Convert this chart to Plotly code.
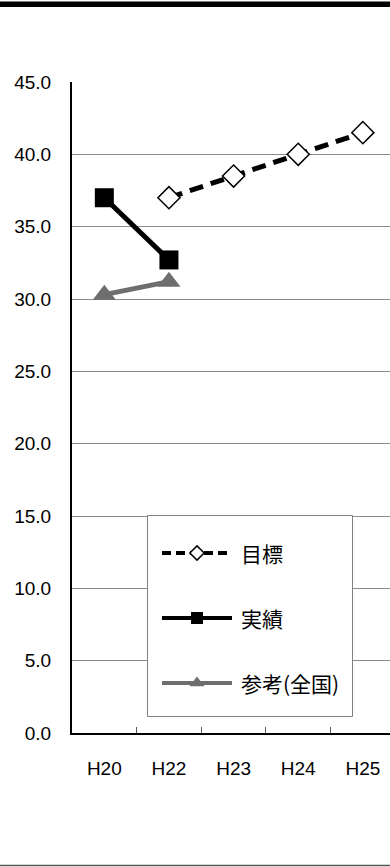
import plotly.graph_objects as go

# Fiscal years on the category axis
years = ["H20", "H22", "H23", "H24", "H25"]

# Target values (目標), from H22 onward
target_years = ["H22", "H23", "H24", "H25"]
target_vals = [37.0, 38.5, 40.0, 41.5]

# Actual results (実績)
actual_years = ["H20", "H22"]
actual_vals = [37.0, 32.7]

# National reference (参考(全国))
national_years = ["H20", "H22"]
national_vals = [30.3, 31.2]

y_ticks = [0, 5, 10, 15, 20, 25, 30, 35, 40, 45]
y_tick_text = [f"{v:.1f}" for v in y_ticks]

W, H = 390, 867
L, R, T, B = 72, 0, 82, 134
X_RANGE = [-0.5, 4.42]
Y_RANGE = [0, 45]
GRAY = "#6e6e6e"
NUM_FONT = "Liberation Sans, Arial, sans-serif"
JP_FONT = "Noto Sans CJK JP, sans-serif"


def py(px):
    """Pixel row -> paper y."""
    return (H - B - px) / (H - T - B)


def dx(px):
    """Pixel column -> category-axis coordinate."""
    return X_RANGE[0] + (px - L) / (W - L - R) * (X_RANGE[1] - X_RANGE[0])


def dy(px):
    """Pixel row -> value-axis coordinate."""
    return Y_RANGE[0] + py(px) * (Y_RANGE[1] - Y_RANGE[0])


fig = go.Figure()

fig.add_trace(go.Scatter(
    x=target_years, y=target_vals, mode="lines+markers", name="目標",
    line=dict(color="black", width=5, dash="14px,8px"),
    marker=dict(symbol="diamond", size=17, color="white",
                line=dict(color="black", width=1.5)),
    showlegend=False, cliponaxis=False,
))
fig.add_trace(go.Scatter(
    x=actual_years, y=actual_vals, mode="lines+markers", name="実績",
    line=dict(color="black", width=5),
    marker=dict(symbol="square", size=19, color="black"),
    showlegend=False,
))
fig.add_trace(go.Scatter(
    x=national_years, y=national_vals, mode="lines+markers", name="参考(全国)",
    line=dict(color=GRAY, width=5),
    marker=dict(symbol="triangle-up", size=20, color=GRAY),
    showlegend=False,
))

# Legend samples drawn on an overlay axis measured in pixels
legend_rows = [
    ("目標", 553, dict(color="black", width=4, dash="9px,5px"),
     dict(symbol="diamond", size=11, color="white", line=dict(color="black", width=1.5))),
    ("実績", 618, dict(color="black", width=4),
     dict(symbol="square", size=12, color="black")),
    ("参考(全国)", 683, dict(color=GRAY, width=4),
     dict(symbol="triangle-up", size=13, color=GRAY)),
]
for label, row_y, ln, mk in legend_rows:
    fig.add_trace(go.Scatter(
        x=[162, 232], y=[row_y, row_y], mode="lines", line=ln,
        xaxis="x2", yaxis="y2", showlegend=False, hoverinfo="skip",
    ))
    fig.add_trace(go.Scatter(
        x=[197], y=[row_y], mode="markers", marker=mk,
        xaxis="x2", yaxis="y2", showlegend=False, hoverinfo="skip",
    ))
    fig.add_annotation(
        x=239, y=row_y, xref="x2", yref="y2", text=label, showarrow=False,
        xanchor="left", yanchor="middle",
        font=dict(family=JP_FONT, size=21, color="black"),
    )

shapes = [
    # legend frame, above the gridlines but under the traces
    dict(type="rect", xref="x", yref="y", x0=dx(147.5), x1=dx(352.5),
         y0=dy(716.5), y1=dy(515.5),
         line=dict(color="#808080", width=1), fillcolor="white", layer="between"),
    # page rules
    dict(type="rect", xref="paper", yref="paper", x0=-L / (W - L - R), x1=1,
         y0=py(7), y1=py(1.5), line=dict(width=0), fillcolor="black"),
    dict(type="line", xref="paper", yref="paper", x0=-L / (W - L - R), x1=1,
         y0=py(865.5), y1=py(865.5), line=dict(color="#555555", width=1.5)),
]

fig.update_layout(
    width=W, height=H,
    margin=dict(l=L, r=R, t=T, b=B, pad=0),
    paper_bgcolor="white", plot_bgcolor="white",
    showlegend=False,
    shapes=shapes,
    xaxis=dict(
        type="category", categoryorder="array", categoryarray=years,
        range=X_RANGE, showgrid=False,
        showline=True, linecolor="black", linewidth=2,
        ticks="inside", tickson="boundaries", ticklen=6, tickcolor="#555555",
        tickfont=dict(family=NUM_FONT, size=19, color="black"),
        ticklabelstandoff=17, fixedrange=True,
    ),
    yaxis=dict(
        range=Y_RANGE, tickvals=y_ticks, ticktext=y_tick_text,
        showgrid=True, gridcolor="#8c8c8c", gridwidth=1,
        showline=True, linecolor="black", linewidth=2, zeroline=False,
        ticks="", tickfont=dict(family=NUM_FONT, size=19, color="black"),
        ticklabelstandoff=15, fixedrange=True,
    ),
    xaxis2=dict(range=[L, W - R], overlaying="x", visible=False, fixedrange=True),
    yaxis2=dict(range=[H - B, T], overlaying="y", visible=False, fixedrange=True),
)

fig.write_html("out.html", include_plotlyjs=True, config={"displayModeBar": False})
